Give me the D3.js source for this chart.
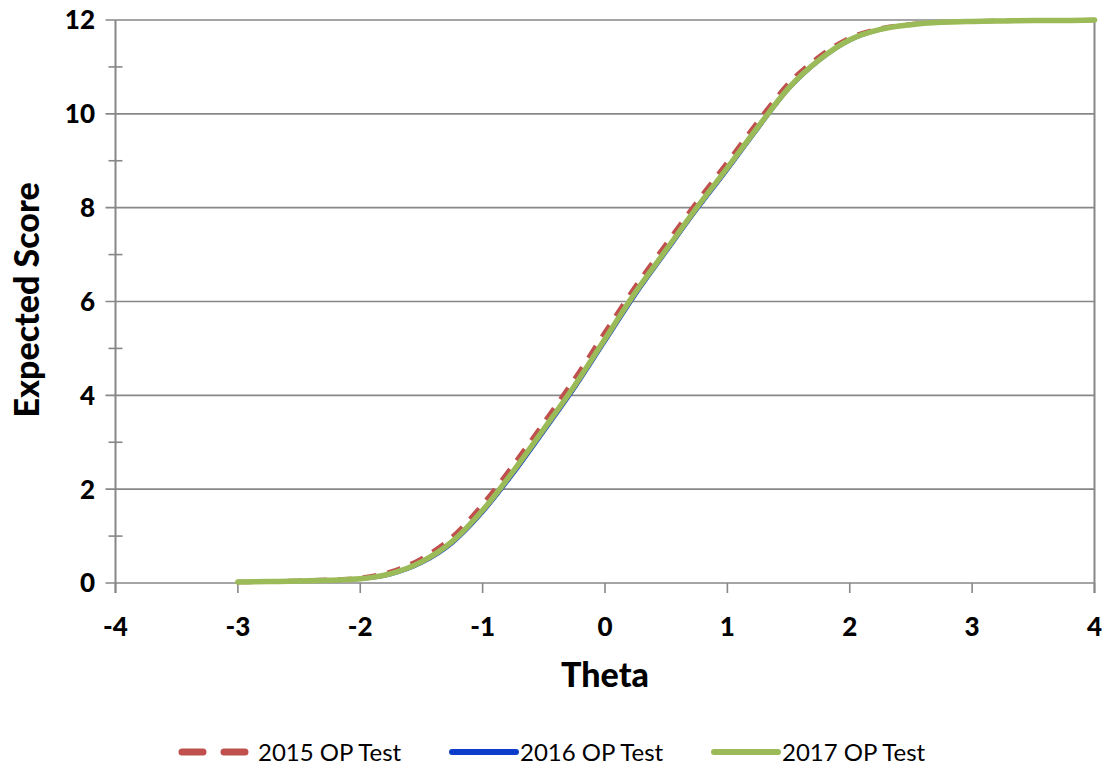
<!DOCTYPE html>
<html><head><meta charset="utf-8">
<script src="https://cdn.jsdelivr.net/npm/d3@7"></script>
<style>body{margin:0;background:#fff;}svg{display:block;}</style>
</head><body>
<svg id="chart" width="1108" height="770"></svg>
<script>
const theta = [-3,-2.75,-2.5,-2.25,-2,-1.75,-1.5,-1.25,-1,-0.75,-0.5,-0.25,0,0.25,0.5,0.75,1,1.25,1.5,1.75,2,2.25,2.5,2.75,3,3.25,3.5,3.75,4];
const score2015 = [0.02,0.03,0.05,0.07,0.11,0.24,0.52,0.98,1.68,2.52,3.42,4.35,5.35,6.33,7.23,8.12,8.97,9.84,10.65,11.22,11.62,11.82,11.91,11.95,11.97,11.98,11.99,11.99,12.0];
const score2016 = [0.02,0.03,0.04,0.05,0.08,0.18,0.42,0.84,1.5,2.32,3.22,4.14,5.14,6.14,7.05,7.95,8.8,9.68,10.52,11.13,11.56,11.79,11.9,11.95,11.97,11.98,11.99,11.99,12.0];
const score2017 = [0.02,0.03,0.04,0.06,0.09,0.2,0.45,0.88,1.55,2.38,3.28,4.2,5.2,6.2,7.1,8.0,8.85,9.72,10.55,11.15,11.58,11.8,11.9,11.95,11.97,11.98,11.99,11.99,12.0];
const seriesNames = ["2015 OP Test","2016 OP Test","2017 OP Test"];
const xTicks = [-4,-3,-2,-1,0,1,2,3,4];
const yTicks = [0,2,4,6,8,10,12];
const yMinorTicks = [1,3,5,7,9,11];

const svg = d3.select("#chart");
const L = 115.5, R = 1094.5, T = 20, B = 583;
const x = d3.scaleLinear().domain([-4,4]).range([L,R]);
const y = d3.scaleLinear().domain([0,12]).range([B,T]);
const gray = "#878787";
const font = "Lato, 'Open Sans', sans-serif";

// gridlines
svg.append("g").selectAll("line").data(yTicks).join("line")
  .attr("x1", L-10).attr("x2", R).attr("y1", d=>y(d)).attr("y2", d=>y(d))
  .attr("stroke", gray).attr("stroke-width", 1.6);
// minor y ticks
svg.append("g").selectAll("line").data(yMinorTicks).join("line")
  .attr("x1", L-7).attr("x2", L+7).attr("y1", d=>y(d)).attr("y2", d=>y(d))
  .attr("stroke", gray).attr("stroke-width", 1.6);
// y axis line
svg.append("line").attr("x1", L).attr("x2", L).attr("y1", T).attr("y2", B+10)
  .attr("stroke", gray).attr("stroke-width", 2);
// right line
svg.append("line").attr("x1", R).attr("x2", R).attr("y1", T).attr("y2", B+10)
  .attr("stroke", gray).attr("stroke-width", 2);
// x ticks
svg.append("g").selectAll("line").data(xTicks).join("line")
  .attr("x1", d=>x(d)).attr("x2", d=>x(d)).attr("y1", B).attr("y2", B+10)
  .attr("stroke", gray).attr("stroke-width", 1.6);

// tick labels
svg.append("g").selectAll("text").data(yTicks).join("text")
  .attr("x", 95).attr("y", d=>y(d)).attr("dy","0.36em").attr("text-anchor","end")
  .attr("font-family", font).attr("font-weight","900").attr("font-size", 26)
  .text(d=>d);
svg.append("g").selectAll("text").data(xTicks).join("text")
  .attr("x", d=>x(d)).attr("y", 627).attr("dy","0.36em").attr("text-anchor","middle")
  .attr("font-family", font).attr("font-weight","900").attr("font-size", 26)
  .text(d=>d);
// axis titles
svg.append("text").attr("x", 605).attr("y", 675).attr("dy","0.36em").attr("text-anchor","middle")
  .attr("font-family", font).attr("font-weight","900").attr("font-size", 34).text("Theta");
svg.append("text").attr("transform","translate(27,300) rotate(-90)").attr("dy","0.36em")
  .attr("text-anchor","middle").attr("font-family", font).attr("font-weight","900")
  .attr("font-size", 34).text("Expected Score");

// series
const styles = [
  {color:"#C0504D", width:4.5, dash:"14,11"},
  {color:"#0B3CCB", width:3.5, dash:null},
  {color:"#9BBB59", width:5.5, dash:null}
];
const data = [score2015, score2016, score2017];
const line = d3.line().x((d,i)=>x(theta[i])).y(d=>y(d)).curve(d3.curveMonotoneX);
data.forEach((s,k)=>{
  svg.append("path").datum(s).attr("d", line)
    .attr("fill","none").attr("stroke", styles[k].color).attr("stroke-width", styles[k].width)
    .attr("stroke-dasharray", styles[k].dash).attr("stroke-linecap", k===0?"butt":"round");
});

// legend
const legX = [182, 452, 714];
const lg = svg.append("g");
seriesNames.forEach((n,k)=>{
  lg.append("line").attr("x1", legX[k]).attr("x2", legX[k]+64).attr("y1", 752).attr("y2", 752)
    .attr("stroke", styles[k].color).attr("stroke-width", k===0?7:6)
    .attr("stroke-dasharray", k===0?"21,21":null).attr("stroke-linecap","round");
  lg.append("text").attr("x", legX[k] + (k===0?76:68)).attr("y", 752).attr("dy","0.36em")
    .attr("font-family", font).attr("font-size", 24).text(n);
});
</script>
</body></html>
